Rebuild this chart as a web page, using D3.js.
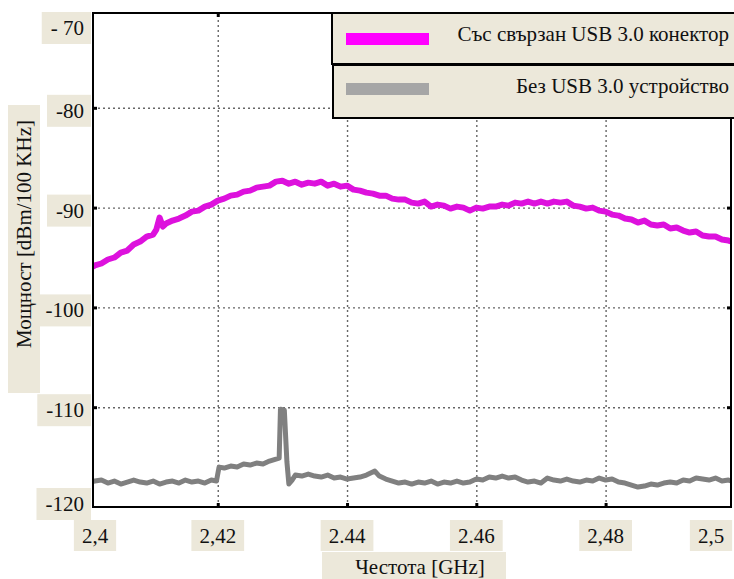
<!DOCTYPE html>
<html>
<head>
<meta charset="utf-8">
<script src="https://cdn.jsdelivr.net/npm/d3@7"></script>
<style>
  html, body { margin: 0; padding: 0; background: #fff; }
  svg { display: block; font-family: "Liberation Serif", "Times New Roman", serif; }
</style>
</head>
<body>
<div id="chart"></div>
<script>
// ─── Data ───
const freqUsb = [
  2.400, 2.401, 2.402, 2.403, 2.404, 2.405, 2.406, 2.407, 2.408, 2.409,
  2.410, 2.4105, 2.411, 2.4115, 2.412, 2.413, 2.414, 2.415, 2.416, 2.417,
  2.418, 2.419, 2.420, 2.421, 2.422, 2.423, 2.424, 2.425, 2.426, 2.427,
  2.428, 2.429, 2.430, 2.431, 2.432, 2.433, 2.434, 2.435, 2.436, 2.437,
  2.438, 2.439, 2.440, 2.441, 2.442, 2.443, 2.444, 2.445, 2.446, 2.447,
  2.448, 2.449, 2.450, 2.451, 2.452, 2.453, 2.454, 2.455, 2.456, 2.457,
  2.458, 2.459, 2.460, 2.461, 2.462, 2.463, 2.464, 2.465, 2.466, 2.467,
  2.468, 2.469, 2.470, 2.471, 2.472, 2.473, 2.474, 2.475, 2.476, 2.477,
  2.478, 2.479, 2.480, 2.481, 2.482, 2.483, 2.484, 2.485, 2.486, 2.487,
  2.488, 2.489, 2.490, 2.491, 2.492, 2.493, 2.494, 2.495, 2.496, 2.497,
  2.498, 2.499, 2.500,
];
const powerUsb = [
  -96.1, -95.8, -95.6, -95.2, -95.0, -94.5, -94.3, -93.7, -93.4, -92.9,
  -92.7, -92.2, -91.0, -91.9, -91.6, -91.3, -91.1, -90.8, -90.4, -90.3,
  -89.9, -89.7, -89.3, -89.1, -88.8, -88.7, -88.4, -88.3, -88.0, -87.9,
  -87.8, -87.4, -87.3, -87.6, -87.4, -87.7, -87.5, -87.6, -87.4, -87.8,
  -87.6, -87.9, -87.8, -88.2, -88.3, -88.5, -88.6, -88.8, -88.8, -89.1,
  -89.2, -89.2, -89.5, -89.6, -89.4, -89.9, -89.7, -89.8, -90.1, -89.9,
  -90.0, -90.3, -90.0, -90.1, -89.9, -89.9, -89.7, -89.8, -89.5, -89.6,
  -89.4, -89.6, -89.4, -89.6, -89.4, -89.5, -89.4, -89.8, -89.9, -90.1,
  -90.0, -90.3, -90.4, -90.7, -90.8, -91.1, -91.2, -91.5, -91.3, -91.7,
  -91.8, -91.7, -92.1, -92.0, -92.3, -92.5, -92.4, -92.8, -92.9, -92.9,
  -93.2, -93.3, -93.5,
];

const freqNoUsb = [
  2.400, 2.401, 2.402, 2.403, 2.404, 2.405, 2.406, 2.407, 2.408, 2.409,
  2.410, 2.411, 2.412, 2.413, 2.414, 2.415, 2.416, 2.417, 2.418, 2.419,
  2.4198, 2.4202, 2.421, 2.422, 2.423, 2.424, 2.425, 2.426, 2.427, 2.428,
  2.429, 2.4295, 2.4297, 2.4303, 2.4307, 2.431, 2.4315, 2.432, 2.433, 2.434,
  2.435, 2.436, 2.437, 2.438, 2.439, 2.440, 2.441, 2.442, 2.443, 2.4443,
  2.445, 2.446, 2.447, 2.448, 2.449, 2.450, 2.451, 2.452, 2.453, 2.454,
  2.455, 2.456, 2.457, 2.458, 2.459, 2.460, 2.461, 2.462, 2.463, 2.464,
  2.465, 2.466, 2.467, 2.468, 2.469, 2.470, 2.471, 2.472, 2.473, 2.474,
  2.475, 2.476, 2.477, 2.478, 2.479, 2.480, 2.481, 2.482, 2.483, 2.484,
  2.485, 2.486, 2.487, 2.488, 2.489, 2.490, 2.491, 2.492, 2.493, 2.494,
  2.495, 2.496, 2.497, 2.498, 2.499, 2.500,
];
const powerNoUsb = [
  -117.5, -117.4, -117.3, -117.6, -117.4, -117.7, -117.5, -117.3, -117.5, -117.6,
  -117.4, -117.7, -117.5, -117.4, -117.6, -117.3, -117.5, -117.4, -117.6, -117.3,
  -117.4, -116.0, -116.1, -115.9, -116.0, -115.7, -115.8, -115.6, -115.7, -115.4,
  -115.2, -115.1, -110.2, -110.3, -115.5, -117.7, -117.3, -116.8, -116.9, -116.7,
  -116.9, -117.0, -116.8, -117.1, -117.0, -117.2, -117.1, -117.0, -116.8, -116.4,
  -116.9, -117.2, -117.4, -117.6, -117.5, -117.7, -117.5, -117.6, -117.4, -117.7,
  -117.5, -117.6, -117.4, -117.6, -117.5, -117.2, -117.3, -117.0, -117.1, -116.9,
  -117.1, -117.0, -117.3, -117.5, -117.4, -117.6, -117.1, -117.3, -117.4, -117.2,
  -117.4, -117.5, -117.3, -117.4, -117.1, -117.3, -117.2, -117.5, -117.6, -117.8,
  -118.0, -117.9, -117.7, -117.8, -117.6, -117.5, -117.6, -117.3, -117.4, -117.1,
  -117.2, -117.3, -117.1, -117.4, -117.3, -117.5,
];

const yTickValues = [-70, -80, -90, -100, -110, -120];
const yTickLabels = ["- 70", "-80", "-90", "-100", "-110", "-120"];
const xTickValues = [2.40, 2.42, 2.44, 2.46, 2.48, 2.50];
const xTickLabels = ["2,4", "2,42", "2.44", "2.46", "2,48", "2,5"];

const seriesNames = ["Със свързан USB 3.0 конектор", "Без USB 3.0 устройство"];
const xTitle = "Честота [GHz]";
const yTitle = "Мощност [dBm/100 KHz]";

// ─── Layout ───
const W = 734, H = 579;
const plot = { left: 93, right: 731, top: 13, bottom: 507 };
const BEIGE = "#ECE8DA";
const MAGENTA = "#DD11DD";
const GREY = "#808080";
const FONT = 21;

const svg = d3.select("#chart").append("svg")
  .attr("width", W).attr("height", H)
  .attr("viewBox", `0 0 ${W} ${H}`);

svg.append("rect").attr("width", W).attr("height", H).attr("fill", "#fff");

const x = d3.scaleLinear().domain([2.4007, 2.4994]).range([plot.left, plot.right]);
const y = d3.scaleLinear().domain([-120, -70.5]).range([plot.bottom, plot.top]);

svg.append("clipPath").attr("id", "plotClip")
  .append("rect")
  .attr("x", plot.left).attr("y", plot.top)
  .attr("width", plot.right - plot.left).attr("height", plot.bottom - plot.top);

// ── Dotted grid ──
const gridY = yTickValues.filter((v) => v > -120 && v < -70);
const gridX = xTickValues.filter((v) => v > 2.4 && v < 2.5);

svg.append("g")
  .attr("transform", `translate(${plot.left},0)`)
  .call(d3.axisLeft(y).tickValues(gridY).tickSize(-(plot.right - plot.left)).tickFormat(""))
  .call((g) => g.select(".domain").remove())
  .call((g) => g.selectAll("line")
    .attr("stroke", "#666").attr("stroke-width", 1.4).attr("stroke-dasharray", "2,3"));

svg.append("g")
  .attr("transform", `translate(0,${plot.bottom})`)
  .call(d3.axisBottom(x).tickValues(gridX).tickSize(-(plot.bottom - plot.top)).tickFormat(""))
  .call((g) => g.select(".domain").remove())
  .call((g) => g.selectAll("line")
    .attr("stroke", "#666").attr("stroke-width", 1.4).attr("stroke-dasharray", "2,3"));

// ── Traces ──
const line = d3.line().x((d) => x(d[0])).y((d) => y(d[1]));
const traces = svg.append("g").attr("clip-path", "url(#plotClip)");

traces.append("path")
  .datum(d3.zip(freqNoUsb, powerNoUsb))
  .attr("d", line)
  .attr("fill", "none").attr("stroke", GREY)
  .attr("stroke-width", 5).attr("stroke-linejoin", "round");

traces.append("path")
  .datum(d3.zip(freqUsb, powerUsb))
  .attr("d", line)
  .attr("fill", "none").attr("stroke", MAGENTA)
  .attr("stroke-width", 6).attr("stroke-linejoin", "round");

// ── Frame + small inner tick marks ──
svg.append("rect")
  .attr("x", plot.left).attr("y", plot.top)
  .attr("width", plot.right - plot.left).attr("height", plot.bottom - plot.top)
  .attr("fill", "none").attr("stroke", "#000").attr("stroke-width", 2);

function innerTicks(axis, tx, ty, values) {
  svg.append("g")
    .attr("transform", `translate(${tx},${ty})`)
    .call(axis.tickValues(values).tickSize(4).tickFormat(""))
    .call((g) => g.select(".domain").remove())
    .call((g) => g.selectAll("line").attr("stroke", "#000").attr("stroke-width", 3));
}
innerTicks(d3.axisRight(y), plot.left, 0, gridY);
innerTicks(d3.axisLeft(y), plot.right, 0, gridY);
innerTicks(d3.axisTop(x), 0, plot.bottom, gridX);
innerTicks(d3.axisBottom(x), 0, plot.top, gridX);

// ── Boxed tick labels ──
const yLabels = svg.append("g");
yTickValues.forEach((v, i) => {
  const cy = Math.max(28, Math.min(504, y(v) + 3));
  const g = yLabels.append("g");
  const t = g.append("text")
    .attr("x", 84).attr("y", cy + 7)
    .attr("font-size", FONT).attr("text-anchor", "end").attr("fill", "#111")
    .text(yTickLabels[i]);
  const w = t.node().getComputedTextLength();
  g.insert("rect", "text")
    .attr("x", 84 - w - 9).attr("y", cy - 16)
    .attr("width", w + 16).attr("height", 32)
    .attr("fill", BEIGE);
});

const xLabels = svg.append("g");
xTickValues.forEach((v, i) => {
  const cx = Math.max(95, Math.min(711, x(v)));
  const g = xLabels.append("g");
  const t = g.append("text")
    .attr("x", cx).attr("y", 543)
    .attr("font-size", FONT).attr("text-anchor", "middle").attr("fill", "#111")
    .text(xTickLabels[i]);
  const w = t.node().getComputedTextLength();
  g.insert("rect", "text")
    .attr("x", cx - w / 2 - 8).attr("y", 520)
    .attr("width", w + 16).attr("height", 31)
    .attr("fill", BEIGE);
});

// ── Axis titles ──
svg.append("rect").attr("x", 322).attr("y", 552).attr("width", 184).attr("height", 27).attr("fill", BEIGE);
svg.append("text")
  .attr("x", 420).attr("y", 574)
  .attr("font-size", FONT).attr("text-anchor", "middle").attr("fill", "#111")
  .text(xTitle);

svg.append("rect").attr("x", 8).attr("y", 105).attr("width", 32).attr("height", 288).attr("fill", BEIGE);
svg.append("text")
  .attr("transform", "translate(31,234) rotate(-90)")
  .attr("font-size", FONT).attr("text-anchor", "middle").attr("fill", "#111")
  .text(yTitle);

// ── Legend ──
const legend = svg.append("g");
const legendRows = [
  { name: seriesNames[0], color: "#FF00FF", top: 13, h: 51, sw: 20 },
  { name: seriesNames[1], color: "#A6A6A6", top: 65, h: 53, sw: 18 },
];
legendRows.forEach((r, i) => {
  legend.append("rect")
    .attr("x", 332 + i).attr("y", r.top)
    .attr("width", 420).attr("height", r.h)
    .attr("fill", BEIGE).attr("stroke", "#000").attr("stroke-width", 2);
  legend.append("rect")
    .attr("x", 346).attr("y", r.top + r.sw)
    .attr("width", 83).attr("height", 12)
    .attr("fill", r.color);
  legend.append("text")
    .attr("x", 729).attr("y", r.top + 28)
    .attr("font-size", FONT).attr("text-anchor", "end").attr("fill", "#111")
    .text(r.name);
});
</script>
</body>
</html>
